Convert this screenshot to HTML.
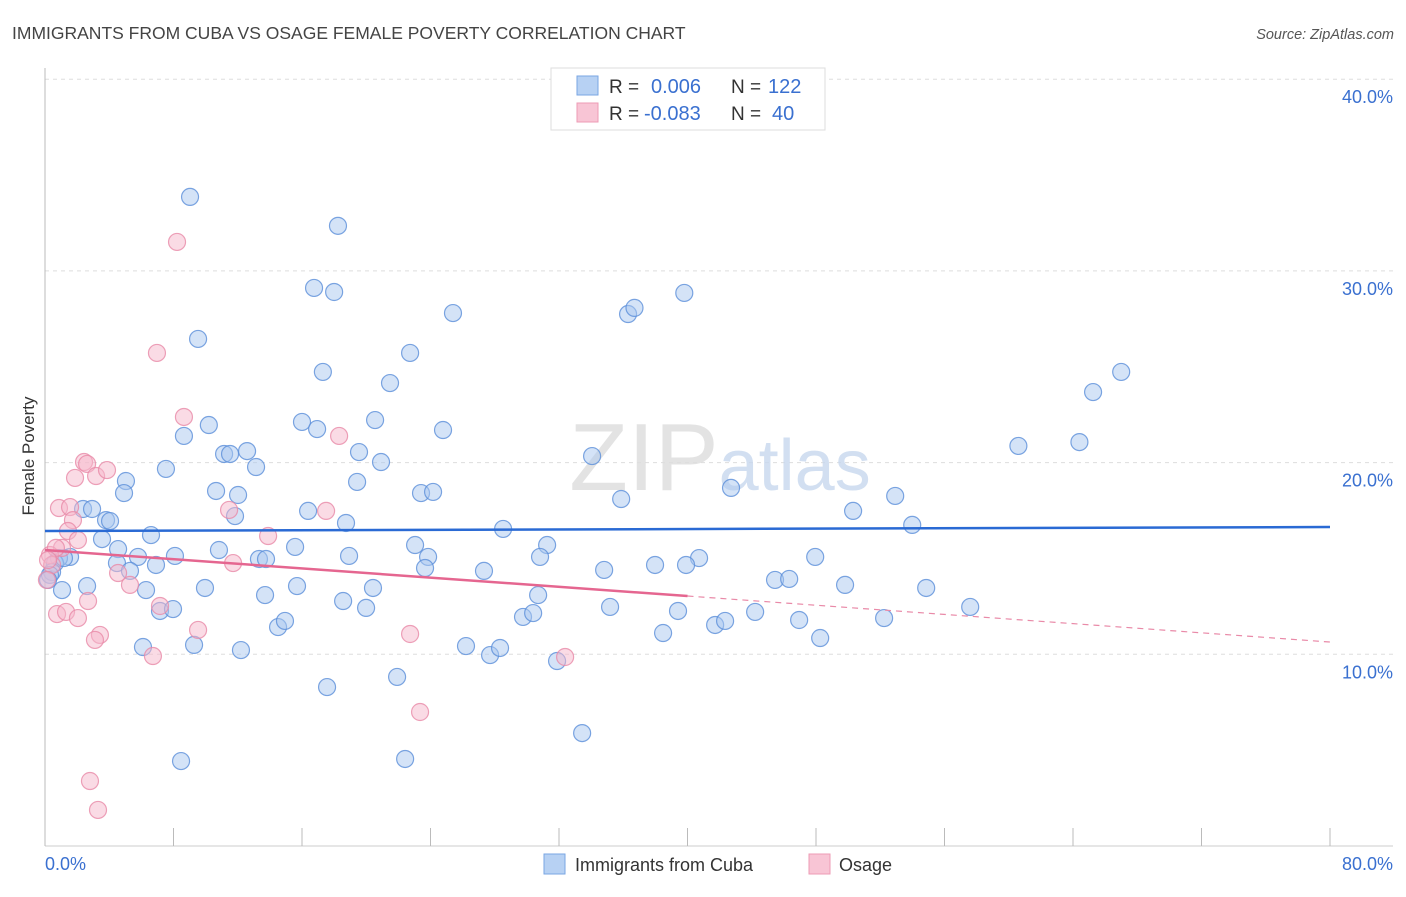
<!DOCTYPE html>
<html><head><meta charset="utf-8"><style>
body{margin:0;background:#fff;font-family:"Liberation Sans",sans-serif;}
svg text{font-family:"Liberation Sans",sans-serif;}
</style></head><body>
<svg id="chart" width="1406" height="892" viewBox="0 0 1406 892" xmlns="http://www.w3.org/2000/svg">
<text x="12" y="39" font-size="17.5" fill="#444">IMMIGRANTS FROM CUBA VS OSAGE FEMALE POVERTY CORRELATION CHART</text>
<text x="1394" y="39" font-size="14.5" fill="#555" font-style="italic" text-anchor="end">Source: ZipAtlas.com</text>
<g id="grid"></g>
<text x="720" y="490" font-size="96" fill="#ddd" text-anchor="middle" font-family="Liberation Serif" opacity="0.8">ZIP<tspan fill="#c8d8ee" font-family="Liberation Sans" font-size="72">atlas</tspan></text>
<text transform="translate(34,456) rotate(-90)" font-size="17" fill="#333" text-anchor="middle">Female Poverty</text>
<g id="marks"></g>
<g>
<rect x="551" y="68" width="274" height="62" fill="#fff" stroke="#ddd"/>
<rect x="577" y="76" width="21" height="19" fill="#b7d1f3" stroke="#7aa6e3"/>
<rect x="577" y="103" width="21" height="19" fill="#f8c5d5" stroke="#ee9bb5"/>
<text x="609" y="93" font-size="19" fill="#333">R =</text>
<text x="651" y="93" font-size="20" fill="#3a70d0">0.006</text>
<text x="731" y="93" font-size="19" fill="#333">N =</text>
<text x="768" y="93" font-size="20" fill="#3a70d0">122</text>
<text x="609" y="120" font-size="19" fill="#333">R =</text>
<text x="644" y="120" font-size="20" fill="#3a70d0">-0.083</text>
<text x="731" y="120" font-size="19" fill="#333">N =</text>
<text x="772" y="120" font-size="20" fill="#3a70d0">40</text>
</g>
<g>
<rect x="544" y="854" width="21" height="20" fill="#b7d1f3" stroke="#7aa6e3"/>
<text x="575" y="871" font-size="18" fill="#333">Immigrants from Cuba</text>
<rect x="809" y="854" width="21" height="20" fill="#f8c5d5" stroke="#ee9bb5"/>
<text x="839" y="871" font-size="18" fill="#333">Osage</text>
</g>
</svg>
<script>
const xTicks=[0,10,20,30,40,50,60,70,80];
const yTicks=[10,20,30,40];
const cubaX=[9.03,18.24,16.75,18.0,9.53,25.4,36.3,36.7,39.8,67.0,65.25,17.3,22.73,21.48,8.65,10.2,16.0,16.94,20.55,24.78,34.06,60.6,64.4,11.15,11.52,12.58,13.14,7.53,19.55,20.92,5.04,4.92,10.65,12.02,19.43,23.41,24.16,35.87,42.71,52.93,50.31,2.37,2.93,3.8,4.05,11.83,16.38,18.74,28.52,53.99,6.6,3.55,4.55,1.56,0.87,0.62,0.44,1.18,5.79,8.09,10.83,13.32,13.76,15.57,18.93,23.04,23.85,31.26,30.82,40.72,39.91,37.98,47.95,4.48,5.29,6.91,23.66,27.33,34.81,1.06,2.62,6.29,9.96,13.7,15.69,20.42,30.7,45.45,46.33,49.81,54.86,7.16,7.97,18.56,19.99,29.76,30.39,35.18,39.41,44.21,57.6,14.51,14.94,41.72,42.34,46.95,52.24,38.48,48.26,6.1,9.28,12.2,26.21,27.71,28.33,31.88,21.92,17.56,33.44,8.47,22.42,0.31,0.19];
const cubaY=[33.86,32.35,29.11,28.9,26.45,27.8,27.75,28.07,28.85,24.73,23.68,24.73,25.72,24.15,21.39,21.96,22.12,21.75,22.22,21.7,20.34,20.87,21.07,20.45,20.45,20.6,19.77,19.67,20.55,20.03,19.04,18.41,18.52,18.31,18.99,18.41,18.47,18.1,18.68,18.26,17.48,17.58,17.58,17.0,16.95,17.21,17.48,16.85,16.54,16.75,16.22,16.01,15.49,15.08,15.02,14.76,14.29,15.02,15.08,15.13,15.44,14.97,14.97,15.6,15.13,15.7,15.08,15.7,15.08,15.02,14.66,14.66,15.08,14.76,14.35,14.66,14.5,14.35,14.4,13.35,13.56,13.35,13.46,13.09,13.56,13.46,13.09,13.88,13.93,13.62,13.46,12.26,12.36,12.78,12.42,11.95,12.15,12.47,12.26,12.21,12.47,11.42,11.74,11.53,11.74,11.79,11.89,11.11,10.85,10.38,10.49,10.22,10.43,9.96,10.33,9.65,8.82,8.29,5.89,4.43,4.54,14.14,13.88];
const osageX=[8.22,6.97,8.65,18.31,2.43,2.62,1.87,3.18,3.86,0.87,1.56,1.74,1.43,2.05,1.06,0.31,0.44,0.68,11.46,17.5,13.89,11.71,4.55,5.29,2.68,7.16,0.75,1.31,2.05,3.42,3.11,9.53,22.73,6.72,32.38,23.35,2.8,3.3,0.19,0.12];
const osageY=[31.51,25.72,22.38,21.39,20.03,19.93,19.2,19.3,19.61,17.63,17.68,17.0,16.43,15.96,15.55,15.18,14.66,15.55,17.53,17.48,16.17,14.76,14.24,13.62,12.78,12.52,12.1,12.21,11.89,11.01,10.75,11.27,11.06,9.91,9.86,6.99,3.39,1.88,14.92,13.88];
const cubaTrend=[16.43,0.0026];
const osageTrend=[15.44,-0.06];
const NS="http://www.w3.org/2000/svg";
const X0=45,X1=1330,YB=846,YPX=19.17;
function sx(v){return X0+(X1-X0)*v/80;}
function sy(v){return YB-v*YPX;}
function mk(t,a,p){const e=document.createElementNS(NS,t);for(const k in a)e.setAttribute(k,a[k]);p.appendChild(e);return e;}
const grid=document.getElementById('grid'),marks=document.getElementById('marks');
yTicks.forEach(t=>{
 const l=mk('line',{x1:X0,x2:1393,y1:sy(t),y2:sy(t),stroke:'#ddd','stroke-dasharray':'4,4'},grid);
 
 
 const tx=mk('text',{x:1393,y:sy(t)+24,'font-size':18,fill:'#3a70d0','text-anchor':'end'},grid);
 tx.textContent=t.toFixed(1)+'%';
 
 
});
const ax=mk('line',{x1:X0,x2:X0,y1:68,y2:846,stroke:'#bbb'},grid);


const bx=mk('line',{x1:X0,x2:1393,y1:846,y2:846,stroke:'#ccc'},grid);


for(let i=0;i<=10;i++){
 const v=i*8;
 const tk=mk('line',{x1:sx(v),x2:sx(v),y1:828,y2:846,stroke:'#bbb'},grid);
 
 
}
[[0,'start',X0],[80,'end',1393]].forEach(([v,a,x])=>{
 const tx=mk('text',{x:x,y:870,'font-size':18,fill:'#3a70d0','text-anchor':a},grid);
 tx.textContent=v.toFixed(1)+'%';
 
 
});
function dots(xs,ys,fill,stroke,name){
 xs.forEach((x,i)=>{
  const c=mk('circle',{cx:sx(x),cy:sy(ys[i]),r:8.5,fill:fill,'fill-opacity':0.5,stroke:stroke,'stroke-width':1.2,'stroke-opacity':0.8},marks);
  
  
 });
}
dots(cubaX,cubaY,'#a9c8f0','#5b8fd9','cuba-point');
dots(osageX,osageY,'#f5b8cb','#e98aa8','osage-point');
const bl=mk('line',{x1:sx(0),x2:sx(80),y1:sy(cubaTrend[0]),y2:sy(cubaTrend[0]+80*cubaTrend[1]),stroke:'#2a6ad4','stroke-width':2.5},marks);


const pl=mk('line',{x1:sx(0),x2:sx(40),y1:sy(osageTrend[0]),y2:sy(osageTrend[0]+40*osageTrend[1]),stroke:'#e56690','stroke-width':2.5},marks);


const pd=mk('line',{x1:sx(40),x2:sx(80),y1:sy(osageTrend[0]+40*osageTrend[1]),y2:sy(osageTrend[0]+80*osageTrend[1]),stroke:'#e98aa8','stroke-width':1.2,'stroke-dasharray':'6,5'},marks);


</script>
</body></html>
